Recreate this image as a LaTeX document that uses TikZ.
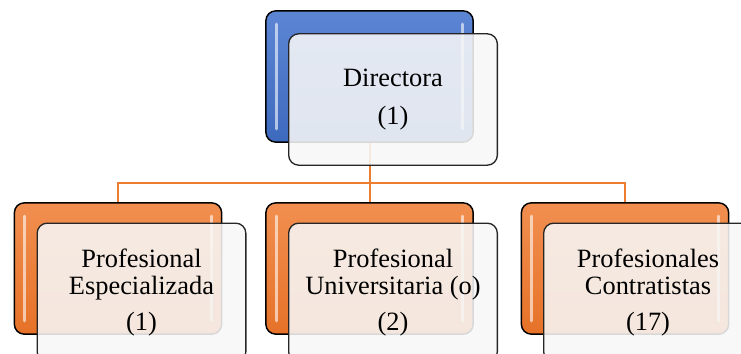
\documentclass[tikz,border=0pt]{standalone}
\usepackage{fontspec}
\setmainfont{Liberation Serif}
\usetikzlibrary{calc}

\definecolor{dirblue}{RGB}{62,106,190}
\definecolor{dirbluetop}{RGB}{92,134,212}
\definecolor{profor}{RGB}{237,125,49}
\definecolor{profortop}{RGB}{241,143,80}
\definecolor{proforbot}{RGB}{230,114,40}

\tikzset{
  backbox/.style={draw=black, line width=1.1pt, rounded corners=7.5pt,
    minimum width=155.5pt, minimum height=98.5pt, inner sep=0pt},
  frontbox/.style={draw=black!85, line width=1pt, rounded corners=7.5pt,
    fill=white!97!black, fill opacity=0.88, text opacity=1,
    minimum width=156.5pt, minimum height=98.5pt, inner sep=0pt, align=center,
    font=\fontsize{19.8}{20}\selectfont},
  lowbox/.style={frontbox, minimum height=104pt},
  link/.style={draw=profor, line width=1.5pt},
  gloss/.style={draw=white, line width=2.2pt, line cap=round, opacity=0.6}
}

\begin{document}
\begin{tikzpicture}[x=0.75pt,y=0.75pt,yscale=-1,xscale=1]
\useasboundingbox (0,0) rectangle (741,353);

%Shape: Rounded Rect (back boxes)
\node [backbox, top color=dirbluetop, bottom color=dirblue] (dirBack) at (369.5,76.5) {};
\node [backbox, top color=profortop, bottom color=proforbot] (espBack) at (118,268.5) {};
\node [backbox, top color=profortop, bottom color=proforbot] (uniBack) at (369.5,268.5) {};
\node [backbox, top color=profortop, bottom color=proforbot] (conBack) at (625,268.5) {};

%Straight Lines (gloss)
\foreach \b in {dirBack,espBack,uniBack,conBack} {
  \draw [gloss] ($(\b.north west)+(11,14)$) -- ($(\b.south west)+(11,-14)$);
  \draw [gloss] ($(\b.north east)+(-11,14)$) -- ($(\b.south east)+(-11,-14)$);
}

%Straight Lines (connectors)
\draw [link] (dirBack.south) -- ++(0,40) coordinate (bus);
\draw [link] (bus) -| (espBack.north);
\draw [link] (bus) -- (uniBack.north);
\draw [link] (bus) -| (conBack.north);

% Text Node
\node [frontbox] (dirFront) at (393,99.5) {Directora\\[8.5pt](1)};
% Text Node
\node [lowbox] (espFront) at (141.5,292.5) {Profesional\\Especializada\\[7pt](1)};
% Text Node
\node [lowbox] (uniFront) at (393,292.5) {Profesional\\Universitaria (o)\\[7pt](2)};
% Text Node
\node [lowbox] (conFront) at (648,292.5) {Profesionales\\Contratistas\\[7pt](17)};

\end{tikzpicture}
\end{document}
